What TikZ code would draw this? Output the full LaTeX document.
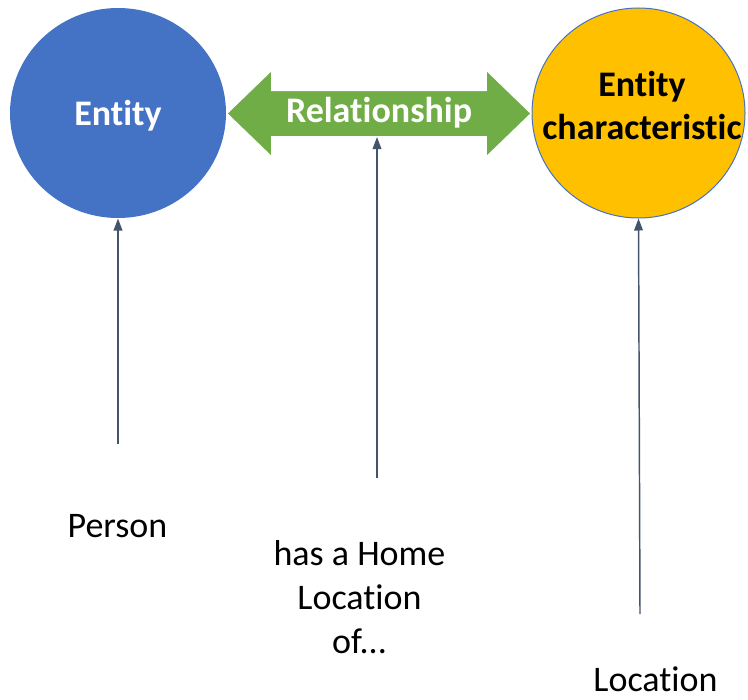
\documentclass[tikz,border=0pt]{standalone}
\usepackage{fontspec}
\setmainfont{Carlito}[Ligatures=NoCommon]
\usetikzlibrary{shapes.geometric,shapes.arrows,arrows.meta}

\tikzset{every picture/.style={line width=0.75pt}}
\tikzset{
	bubble/.style={ellipse, inner sep=0pt},
	heading/.style={font=\fontsize{27}{32}\selectfont\bfseries, align=center, inner sep=0pt},
	caption/.style={font=\fontsize{27}{33}\selectfont, align=center, inner sep=0pt},
	pointer/.style={color={rgb, 255:red, 68; green, 84; blue, 106 }, line width=1.1pt, -{Triangle[length=9pt,width=6.5pt]}}}

\begin{document}
\begin{tikzpicture}[x=0.75pt,y=0.75pt,yscale=-1,xscale=1]
	\path[use as bounding box] (0,0) rectangle (748,699);
	
	%Shape: Ellipse [entity]
	\node [bubble, fill={rgb, 255:red, 68; green, 114; blue, 196 }, minimum width=162pt, minimum height=157.5pt] (entity) at (118,113) {};
	%Shape: Ellipse [trait]
	\node [bubble, draw={rgb, 255:red, 68; green, 114; blue, 196 }, fill={rgb, 255:red, 255; green, 192; blue, 0 }, minimum width=159.75pt, minimum height=157.5pt] (trait) at (638.5,113) {};
	%Shape: Left-Right Arrow [rel]
	\node [double arrow, heading, draw=white, fill={rgb, 255:red, 112; green, 173; blue, 71 }, text=white, minimum height=228pt, double arrow head extend=15pt, double arrow tip angle=88, inner ysep=3.375pt, text height=20pt, text depth=7pt] (rel) at (379,113.5) {Relationship};
	
	% Text Node
	\node [heading, text=white, anchor=base] (entitylbl) at (118,125) {Entity};
	% Text Node (base = last line)
	\node [heading, anchor=base] (traitlbl) at (642,139) {Entity\\characteristic};
	
	% Text Node
	\node [caption, anchor=base] (person) at (117.5,537) {Person};
	% Text Node (base = last line)
	\node [caption, anchor=base] (home) at (359.5,653) {has a Home\\Location\\of...};
	% Text Node
	\node [caption, anchor=base] (location) at (655.5,691) {Location};
	
	%Straight Lines
	\coordinate (personend) at (118,444);
	\draw [pointer] (personend) -- (entity.south);
	%Straight Lines
	\coordinate (homeend) at (377,478);
	\draw [pointer] (homeend) -- (homeend |- rel.south);
	%Straight Lines
	\coordinate (locationend) at (640,614);
	\draw [pointer] (locationend) -- (trait.south);
	
\end{tikzpicture}
\end{document}
